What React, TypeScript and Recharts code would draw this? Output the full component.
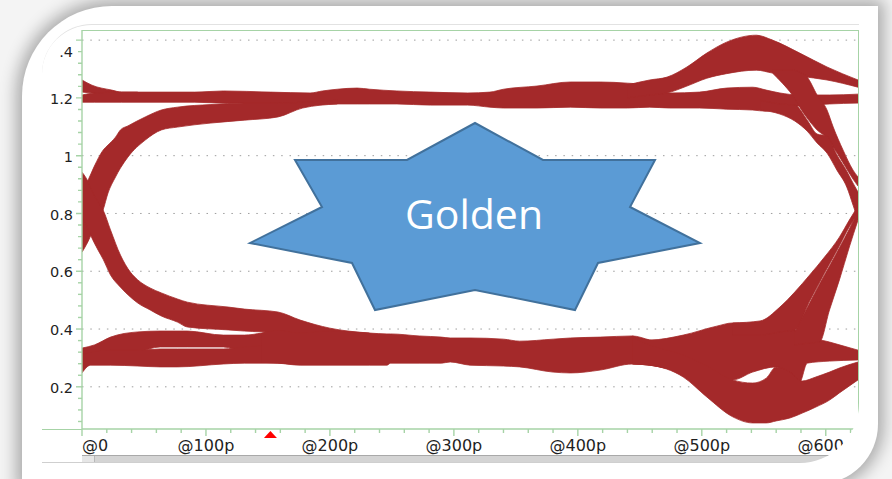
import React from 'react';
import {
  ComposedChart,
  Area,
  XAxis,
  YAxis,
  CartesianGrid,
  ReferenceDot,
} from 'recharts';

// one row per sample: [time (ps), lower edge (V), upper edge (V)]
type Band = [number, number, number][];

const TIME_DOMAIN: [number, number] = [0, 626];
const VOLT_DOMAIN: [number, number] = [0.054, 1.435];

const timeTicks = [0, 100, 200, 300, 400, 500, 600];
const timeLabels = ['@0', '@100p', '@200p', '@300p', '@400p', '@500p', '@600p'];
const voltTicks = [0.2, 0.4, 0.6, 0.8, 1, 1.2, 1.4];
const voltLabels = ['0.2', '0.4', '0.6', '0.8', '1', '1.2', '.4'];
const triggerTime = 152;

// minor tick marks every 20 ps / 0.04 V
const timeMinor = Array.from({ length: 32 }, (_, i) => i * 20);
const voltMinor = Array.from({ length: 34 }, (_, i) => ((i + 2) * 4) / 100);

// ---- high level ----
const highWedge: Band = [
  [0, 1.22, 1.262], [8, 1.217, 1.244], [24, 1.205, 1.227], [32, 1.2, 1.22], [45, 1.195, 1.22],
];

const highRail: Band = [
  [0, 1.185, 1.21], [10, 1.185, 1.217], [32, 1.185, 1.22], [91, 1.185, 1.22],
  [114, 1.182, 1.224], [152, 1.182, 1.22], [184, 1.179, 1.217], [194, 1.179, 1.224],
  [206, 1.179, 1.23], [222, 1.179, 1.234], [232, 1.179, 1.23], [254, 1.179, 1.224],
  [281, 1.175, 1.22], [311, 1.175, 1.217], [329, 1.168, 1.22], [340, 1.165, 1.23],
  [367, 1.165, 1.241], [394, 1.168, 1.255], [418, 1.165, 1.255], [440, 1.165, 1.251],
  [458, 1.168, 1.244], [474, 1.165, 1.217], [498, 1.165, 1.22], [520, 1.161, 1.234],
  [541, 1.158, 1.237], [552, 1.154, 1.227], [563, 1.165, 1.217], [579, 1.172, 1.21],
  [603, 1.179, 1.21], [626, 1.182, 1.213],
];

const overshoot: Band = [
  [440, 1.2, 1.245], [458, 1.21, 1.262], [472, 1.217, 1.272], [488, 1.241, 1.307],
  [504, 1.268, 1.355], [520, 1.284, 1.393], [544, 1.296, 1.417], [557, 1.286, 1.4],
  [579, 1.275, 1.355], [601, 1.262, 1.307], [626, 1.237, 1.262],
];

// ---- transitions at the left edge ----
const riseLeft: Band = [
  [0, 0.666, 0.874], [5, 0.704, 0.916], [10, 0.753, 0.964], [17, 0.812, 1.019],
  [21, 0.871, 1.037], [27, 0.926, 1.064], [31, 0.957, 1.089], [37, 0.995, 1.103],
  [51, 1.054, 1.134], [64, 1.089, 1.158], [77, 1.099, 1.168], [104, 1.113, 1.177],
  [131, 1.123, 1.182], [158, 1.134, 1.182], [178, 1.165, 1.185], [206, 1.179, 1.192],
];

const fallLeft: Band = [
  [0, 0.788, 0.943], [5, 0.746, 0.909], [7, 0.725, 0.888], [13, 0.673, 0.839],
  [17, 0.642, 0.812], [23, 0.587, 0.743], [31, 0.545, 0.656], [39, 0.511, 0.597],
  [45, 0.49, 0.57], [55, 0.466, 0.542], [64, 0.445, 0.525], [77, 0.424, 0.504],
  [85, 0.407, 0.493], [118, 0.397, 0.476], [131, 0.393, 0.469], [158, 0.386, 0.459],
  [176, 0.362, 0.431], [200, 0.345, 0.403], [232, 0.345, 0.386],
];

// ---- low level ----
const lowLeftUpper: Band = [
  [0, 0.275, 0.334], [10, 0.286, 0.345], [23, 0.3, 0.372], [45, 0.32, 0.39],
  [63, 0.338, 0.393], [85, 0.338, 0.393], [114, 0.338, 0.379], [131, 0.32, 0.379],
  [145, 0.307, 0.386], [158, 0.3, 0.395], [176, 0.29, 0.38],
];

const lowLeftLower: Band = [
  [0, 0.248, 0.31], [7, 0.275, 0.32], [23, 0.275, 0.327], [45, 0.272, 0.327],
  [63, 0.269, 0.331], [77, 0.269, 0.331], [114, 0.279, 0.331], [131, 0.282, 0.338],
  [158, 0.282, 0.345], [176, 0.277, 0.34],
];

const lowRail: Band = [
  [145, 0.285, 0.385], [158, 0.282, 0.395], [176, 0.275, 0.386], [200, 0.275, 0.393],
  [232, 0.275, 0.386], [246, 0.275, 0.383], [249, 0.282, 0.383], [272, 0.282, 0.376],
  [290, 0.282, 0.372], [297, 0.286, 0.369], [313, 0.275, 0.369], [340, 0.272, 0.365],
  [353, 0.269, 0.358], [380, 0.251, 0.365], [394, 0.248, 0.369], [418, 0.258, 0.372],
  [444, 0.279, 0.376], [458, 0.275, 0.362], [470, 0.265, 0.35],
];

const lowUpper: Band = [
  [444, 0.279, 0.376], [458, 0.275, 0.362], [485, 0.251, 0.379], [512, 0.23, 0.41],
  [525, 0.224, 0.421], [541, 0.251, 0.421], [560, 0.269, 0.424], [571, 0.237, 0.403],
  [579, 0.217, 0.39], [585, 0.282, 0.376], [603, 0.289, 0.355], [626, 0.293, 0.327],
];

const lowDip: Band = [
  [444, 0.279, 0.37], [458, 0.275, 0.345], [485, 0.234, 0.31], [504, 0.165, 0.272],
  [525, 0.096, 0.224], [541, 0.075, 0.213], [552, 0.075, 0.23], [560, 0.082, 0.269],
  [571, 0.092, 0.251], [581, 0.109, 0.22], [592, 0.13, 0.234], [603, 0.154, 0.251],
  [611, 0.179, 0.265], [626, 0.224, 0.286],
];

// ---- transitions at the right edge ----
const fallRightOuter: Band = [
  [557, 1.286, 1.296], [565, 1.251, 1.296], [573, 1.21, 1.296], [579, 1.168, 1.289],
  [585, 1.13, 1.272], [593, 1.089, 1.21], [601, 1.061, 1.158], [606, 1.03, 1.099],
  [614, 0.975, 1.019], [622, 0.919, 0.95], [626, 0.895, 0.926],
];

const fallRightInner: Band = [
  [547, 1.158, 1.192], [563, 1.144, 1.179], [575, 1.12, 1.175], [585, 1.085, 1.123],
  [593, 1.044, 1.075], [601, 1.009, 1.068], [609, 0.95, 1.002], [617, 0.891, 0.946],
  [622, 0.829, 0.905], [626, 0.777, 0.874],
];

const riseRightInner: Band = [
  [525, 0.379, 0.421], [547, 0.379, 0.428], [563, 0.39, 0.476], [575, 0.397, 0.528],
  [587, 0.497, 0.587], [599, 0.594, 0.649], [611, 0.688, 0.718], [619, 0.754, 0.777],
  [626, 0.801, 0.826],
];

const riseRightOuter: Band = [
  [575, 0.345, 0.39], [587, 0.352, 0.49], [595, 0.355, 0.556], [603, 0.466, 0.618],
  [611, 0.57, 0.681], [619, 0.684, 0.746], [626, 0.777, 0.808],
];

const bands: Band[] = [
  highWedge, highRail, overshoot, riseLeft, fallLeft, lowLeftUpper, lowLeftLower,
  lowRail, lowUpper, lowDip, fallRightOuter, fallRightInner, riseRightInner, riseRightOuter,
];

const TRACE = '#a4292a';
const AXIS_GREEN = '#a6d3a6';
const LABEL = '#1f1f1f';

const toRows = (band: Band) => band.map(([t, lo, hi]) => ({ t, v: [lo, hi] }));

const isTick = (list: number[], v: number) => list.findIndex((t) => Math.abs(t - v) < 1e-6);

const TimeTick = (props: any) => {
  const { x, y, payload } = props;
  const idx = isTick(timeTicks, payload.value);
  const major = idx >= 0;
  return (
    <g>
      <line x1={x} x2={x} y1={y} y2={y + (major ? 7 : 4)} stroke={AXIS_GREEN} strokeWidth={1.4} />
      {major && (
        <text
          x={x}
          y={y + 22}
          textAnchor={idx === 0 ? 'start' : 'middle'}
          fontFamily="DejaVu Sans"
          fontSize={16}
          fill={LABEL}
        >
          {timeLabels[idx]}
        </text>
      )}
    </g>
  );
};

const VoltTick = (props: any) => {
  const { x, y, payload } = props;
  const idx = isTick(voltTicks, payload.value);
  const major = idx >= 0;
  // the top label sits a little lower so it is not cut by the frame
  const shift = idx === voltTicks.length - 1 ? 12 : 1;
  return (
    <g>
      <line x1={x - (major ? 6 : 4)} x2={x} y1={y} y2={y} stroke={AXIS_GREEN} strokeWidth={1.4} />
      {major && (
        <text
          x={x - 9}
          y={y + shift}
          dy="0.35em"
          textAnchor="end"
          fontFamily="DejaVu Sans"
          fontSize={14.5}
          fill={LABEL}
        >
          {voltLabels[idx]}
        </text>
      )}
    </g>
  );
};

const Trigger = (props: any) => {
  const { cx, cy } = props;
  return (
    <polygon
      points={`${cx},${cy + 2} ${cx - 6.5},${cy + 9} ${cx + 6.5},${cy + 9}`}
      fill="#ff0000"
    />
  );
};

const EyeDiagram = () => (
  <ComposedChart width={817} height={438} margin={{ top: 5, right: 1, bottom: 0, left: 0 }}>
    <XAxis xAxisId="grid" type="number" domain={TIME_DOMAIN} ticks={timeTicks} allowDataOverflow hide />
    <YAxis yAxisId="grid" type="number" domain={VOLT_DOMAIN} ticks={voltTicks} allowDataOverflow hide />
    <CartesianGrid
      xAxisId="grid"
      yAxisId="grid"
      syncWithTicks
      stroke="#9d9d9d"
      strokeDasharray="1.5 6.8"
    />
    <XAxis
      dataKey="t"
      type="number"
      scale="linear"
      domain={TIME_DOMAIN}
      ticks={timeMinor}
      interval={0}
      allowDataOverflow
      height={34}
      tickSize={0}
      tickMargin={0}
      tickLine={false}
      axisLine={{ stroke: AXIS_GREEN, strokeWidth: 1.4 }}
      tick={<TimeTick />}
    />
    <YAxis
      type="number"
      scale="linear"
      domain={VOLT_DOMAIN}
      ticks={voltMinor}
      interval={0}
      allowDataOverflow
      width={40}
      tickSize={0}
      tickMargin={0}
      tickLine={false}
      axisLine={{ stroke: AXIS_GREEN, strokeWidth: 1.4 }}
      tick={<VoltTick />}
    />
    {bands.map((band, i) => (
      <Area
        key={i}
        data={toRows(band)}
        dataKey="v"
        type="monotone"
        fill={TRACE}
        fillOpacity={1}
        stroke={TRACE}
        strokeWidth={0.8}
        dot={false}
        activeDot={false}
        isAnimationActive={false}
      />
    ))}
    <ReferenceDot x={triggerTime} y={VOLT_DOMAIN[0]} shape={<Trigger />} ifOverflow="visible" />
  </ComposedChart>
);

const starPoints = [
  [475, 123], [543, 160], [655, 160], [630, 207], [700, 243], [598, 263], [575, 310],
  [475, 290], [375, 310], [352, 263], [250, 243], [322, 207], [295, 160], [407, 160],
];

export default function App() {
  return (
    <div
      style={{
        position: 'fixed',
        left: 0,
        top: 0,
        width: 892,
        height: 479,
        background: '#f4f4f4',
        overflow: 'hidden',
      }}
    >
      {/* rounded card */}
      <div
        style={{
          position: 'absolute',
          left: 22,
          top: 6,
          width: 856,
          height: 478,
          background: '#ffffff',
          borderRadius: '90px 0 60px 0',
          boxShadow: '0 0 16px 6px rgba(0,0,0,0.3)',
        }}
      />
      {/* scope panel */}
      <div
        style={{
          position: 'absolute',
          left: 42,
          top: 24,
          width: 817,
          height: 438,
          borderTop: '1px solid #e2e2e2',
          borderRadius: '50px 0 60px 0',
          overflow: 'hidden',
          background: '#ffffff',
        }}
      >
        <EyeDiagram />
        <div style={{ position: 'absolute', left: 0, top: 404, width: 40, height: 1.4, background: AXIS_GREEN }} />
        <div style={{ position: 'absolute', left: 40, top: 5, width: 777, height: 1.4, background: AXIS_GREEN }} />
        <div style={{ position: 'absolute', left: 816, top: 5, width: 1.4, height: 399, background: AXIS_GREEN }} />
        <div
          style={{
            position: 'absolute',
            left: 40,
            top: 430,
            width: 770,
            height: 6,
            background: '#d4d4d4',
            borderTop: '1px solid #a9a9a9',
          }}
        />
        <div
          style={{
            position: 'absolute',
            left: 40,
            top: 431,
            width: 12,
            height: 6,
            background: '#e6e6e6',
            borderRight: '1px solid #b8b8b8',
          }}
        />
        <div style={{ position: 'absolute', left: 0, top: 437, width: 817, height: 1, background: '#cfcfcf' }} />
      </div>
      {/* callout */}
      <svg
        width={892}
        height={479}
        style={{ position: 'absolute', left: 0, top: 0, pointerEvents: 'none' }}
      >
        <polygon
          points={starPoints.map((p) => p.join(',')).join(' ')}
          fill="#5b9bd5"
          stroke="#41719c"
          strokeWidth={2}
          strokeLinejoin="miter"
        />
        <text
          x={474}
          y={229}
          textAnchor="middle"
          fontFamily="'Open Sans', 'Noto Sans', sans-serif"
          fontSize={41}
          fill="#ffffff"
        >
          Golden
        </text>
      </svg>
    </div>
  );
}
